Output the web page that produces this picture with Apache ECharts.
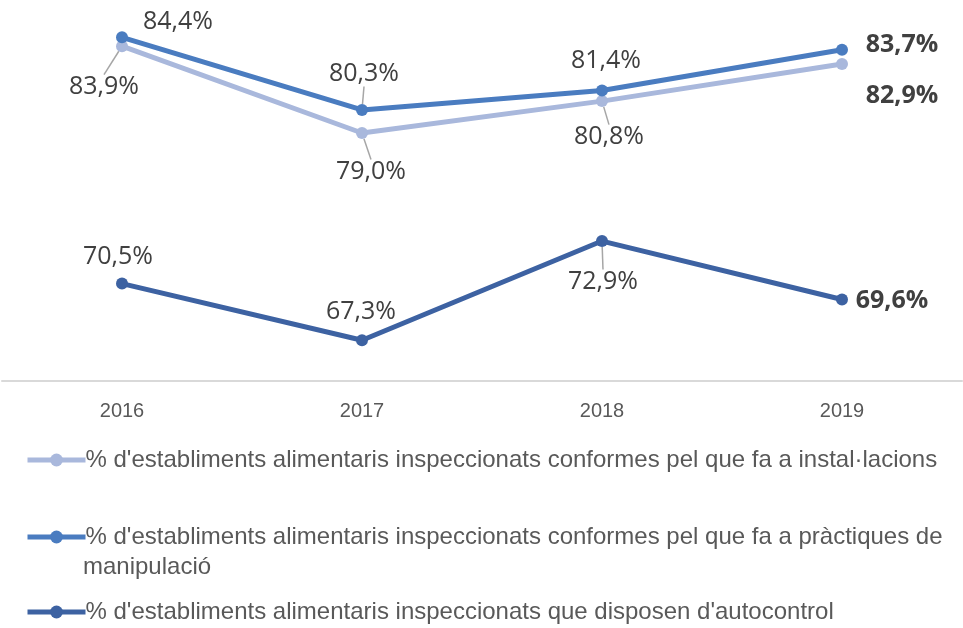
<!DOCTYPE html>
<html>
<head>
<meta charset="utf-8">
<script src="https://cdn.jsdelivr.net/npm/echarts@6/dist/echarts.min.js"></script>
<style>
  html, body { margin: 0; padding: 0; background: #fff; }
  #chart { width: 963px; height: 628px; }
</style>
</head>
<body>
<div id="chart"></div>
<script>
const years = ['2016', '2017', '2018', '2019'];
const instalacions = [83.9, 79.0, 80.8, 82.9];
const practiques = [84.4, 80.3, 81.4, 83.7];
const autocontrol = [70.5, 67.3, 72.9, 69.6];
const names = [
  "% d'establiments alimentaris inspeccionats conformes pel que fa a instal·lacions",
  "% d'establiments alimentaris inspeccionats conformes pel que fa a pràctiques de manipulació",
  "% d'establiments alimentaris inspeccionats que disposen d'autocontrol"
];
const colors = ['#a9b8dc', '#4a7cc0', '#3d62a2'];

// label offsets (dx, dy) from each point, per series
const offsets = [
  [[-18, 41], [9, 39], [7, 36], [60, 32]],
  [[56, -15], [2, -36], [4, -30], [60, -5]],
  [[-4, -27], [-1, -28], [1, 41], [50, 1]]
];
// which labels get a small leader line
const leaders = [
  [true, true, true, false],
  [false, true, false, false],
  [false, false, true, false]
];

const fmt = v => v.toFixed(1).replace('.', ',') + '%';

const chart = echarts.init(document.getElementById('chart'));

function makeSeries(i, values) {
  return {
    name: names[i],
    type: 'line',
    data: values.map((v, j) => ({
      value: v,
      label: j === 3 ? { fontWeight: 'bold' } : {},
      labelLine: { show: leaders[i][j] }
    })),
    symbol: 'circle',
    symbolSize: 12,
    itemStyle: { color: colors[i] },
    lineStyle: { color: colors[i], width: 5 },
    z: i === 0 ? 2 : 3,
    label: {
      show: true,
      position: 'inside',
      formatter: p => fmt(p.value),
      fontFamily: 'Open Sans',
      fontSize: 25,
      color: '#404040'
    },
    labelLine: {
      show: true,
      lineStyle: { color: '#a6a6a6', width: 1.5 }
    },
    labelLayout: p => ({ dx: offsets[i][p.dataIndex][0], dy: offsets[i][p.dataIndex][1] }),
    animation: false
  };
}

const option = {
  animation: false,
  grid: { left: 2, right: 1, top: 9, bottom: 247 },
  xAxis: {
    type: 'category',
    data: years,
    boundaryGap: true,
    axisLine: { lineStyle: { color: '#d9d9d9', width: 2 } },
    axisTick: { show: false },
    axisLabel: {
      margin: 20,
      fontFamily: 'Liberation Sans',
      fontSize: 20,
      color: '#595959'
    }
  },
  yAxis: {
    type: 'value',
    min: 65,
    max: 86,
    show: false,
    splitLine: { show: false }
  },
  legend: [0, 1, 2].map(i => ({
    data: [names[i]],
    left: 20,
    top: [443, 520, 595][i],
    itemWidth: 58,
    itemHeight: 16,
    itemGap: 4,
    lineStyle: { width: 5 },
    formatter: i === 1 ? "% d'establiments alimentaris inspeccionats conformes pel que fa a pràctiques de" : undefined,
    textStyle: { fontFamily: 'Liberation Sans', fontSize: 24, color: '#595959', padding: [0, 0, 0, -5] },
    selectedMode: false
  })),
  graphic: [{
    type: 'text',
    left: 83,
    top: 555,
    style: { text: 'manipulació', font: '24px "Liberation Sans"', fill: '#595959' }
  }],
  series: [
    makeSeries(0, instalacions),
    makeSeries(1, practiques),
    makeSeries(2, autocontrol)
  ]
};

chart.setOption(option);
</script>
</body>
</html>
